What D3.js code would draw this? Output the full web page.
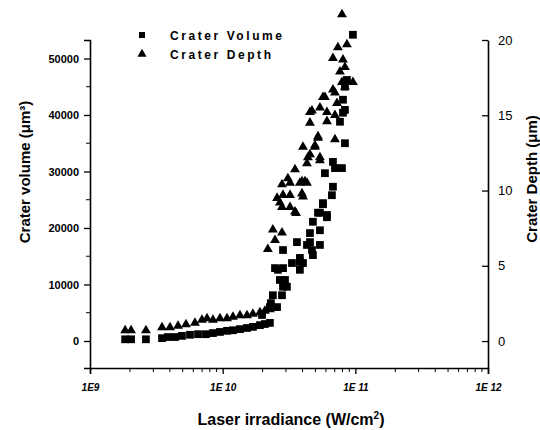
<!DOCTYPE html>
<html>
<head>
<meta charset="utf-8">
<script src="https://cdn.jsdelivr.net/npm/d3@7"></script>
<style>
  body { margin: 0; background: #fff; }
  svg { display: block; font-family: "Liberation Sans", Arial, sans-serif; }
</style>
</head>
<body>
<div id="chart"></div>
<script>
// data: [irradiance W/cm2, value]
const volumeData = [
  [1.84e9, 300], [2.04e9, 300], [2.64e9, 300], [3.49e9, 500], [3.87e9, 700], [4.37e9, 700],
  [4.93e9, 900], [5.67e9, 1100], [6.52e9, 1200], [7.48e9, 1200], [8.45e9, 1400], [9.54e9, 1600],
  [1.078e10, 1800], [1.196e10, 1900], [1.35e10, 2100], [1.525e10, 2300], [1.69e10, 2500],
  [1.91e10, 2800], [2.08e10, 3000], [2.27e10, 3200], [1.98e10, 4600], [2.27e10, 6000],
  [2.57e10, 6000], [2.31e10, 6700], [2.39e10, 8100], [2.80e10, 8100], [2.85e10, 9600],
  [3.05e10, 9600], [2.70e10, 10800], [2.95e10, 10800], [2.61e10, 12600], [2.85e10, 12900],
  [3.33e10, 13800], [3.82e10, 14000], [3.82e10, 12600], [2.85e10, 16100], [3.63e10, 17500],
  [4.55e10, 17500], [4.79e10, 15200], [5.41e10, 17000], [4.32e10, 17000], [4.71e10, 16100],
  [4.03e10, 13800], [5.41e10, 19600], [4.79e10, 21100], [4.55e10, 19100], [5.41e10, 22700],
  [6.11e10, 21900], [5.70e10, 24400], [6.66e10, 25800], [6.78e10, 27300], [5.90e10, 29700],
  [7.02e10, 30600], [7.93e10, 30600], [6.78e10, 31700], [8.35e10, 35000], [7.66e10, 38800],
  [8.07e10, 40400], [8.35e10, 40900], [8.07e10, 42700], [8.35e10, 45000], [8.64e10, 46200],
  [9.59e10, 54200], [5.70e10, 24200], [6.11e10, 22300], [5.23e10, 22700], [2.48e10, 12900],
  [3.82e10, 14700]
];

const depthData = [
  [1.84e9, 0.7], [2.04e9, 0.7], [2.64e9, 0.7], [3.49e9, 0.9], [4.01e9, 0.9], [4.61e9, 1.0],
  [5.29e9, 1.1], [6.18e9, 1.2], [6.98e9, 1.4], [7.62e9, 1.5], [8.45e9, 1.4], [9.54e9, 1.5],
  [1.078e10, 1.5], [1.196e10, 1.6], [1.35e10, 1.7], [1.525e10, 1.7], [1.69e10, 1.8],
  [1.91e10, 1.9], [2.08e10, 2.0], [2.27e10, 2.1], [2.19e10, 6.1], [2.39e10, 7.4],
  [2.48e10, 6.7], [2.80e10, 7.2], [2.85e10, 9.7], [2.57e10, 9.5], [2.80e10, 8.9],
  [3.22e10, 9.7], [3.51e10, 8.6], [4.03e10, 9.6], [2.80e10, 10.4], [3.22e10, 10.5],
  [3.82e10, 10.5], [4.32e10, 10.5], [2.70e10, 9.2], [3.22e10, 8.9], [3.57e10, 8.5],
  [3.96e10, 10.6], [4.32e10, 11.8], [3.96e10, 9.8], [4.55e10, 12.4], [5.41e10, 12.2],
  [4.03e10, 12.9], [4.96e10, 12.9], [5.23e10, 13.6], [4.39e10, 12.2], [4.96e10, 13.0],
  [7.02e10, 13.4], [5.41e10, 12.0], [4.17e10, 10.6], [4.55e10, 15.2], [6.11e10, 15.2],
  [7.02e10, 15.0], [4.55e10, 14.5], [6.11e10, 14.6], [5.23e10, 13.5], [5.70e10, 16.2],
  [6.78e10, 16.7], [4.71e10, 15.3], [5.41e10, 15.5], [7.27e10, 15.8], [5.90e10, 16.2],
  [7.02e10, 16.5], [7.93e10, 17.2], [8.35e10, 16.9], [9.59e10, 17.2], [7.66e10, 17.9],
  [8.35e10, 18.2], [6.78e10, 18.8], [8.07e10, 18.7], [7.39e10, 19.5], [8.64e10, 19.7],
  [7.93e10, 21.7], [3.51e10, 11.4], [3.10e10, 10.8]
];

const volumeTicks = [0, 10000, 20000, 30000, 40000, 50000];
const depthTicks = [0, 5, 10, 15, 20];
const xTicks = [1e9, 1e10, 1e11, 1e12];
const xTickLabels = ["1E9", "1E 10", "1E 11", "1E 12"];
const legendLabels = ["Crater Volume", "Crater Depth"];

const W = 540, H = 430;
const plotL = 90, plotR = 488, plotT = 40, plotB = 368;

const svg = d3.select("#chart").append("svg")
    .attr("width", W)
    .attr("height", H);

const x = d3.scaleLog().domain([1e9, 1e12]).range([plotL, plotR]);
const yV = d3.scaleLinear().domain([-4780, 53270]).range([plotB, plotT]);
const yD = d3.scaleLinear().domain([-1.79, 20]).range([plotB, plotT]);

// axes
const axL = svg.append("g")
    .attr("transform", `translate(${plotL},0)`)
    .call(d3.axisLeft(yV).tickValues(volumeTicks).tickSize(6).tickPadding(5).tickFormat(d3.format("d")));
axL.selectAll(".tick text").style("font-size", "11px").style("font-weight", "bold");
axL.append("g").selectAll("line")
    .data(d3.range(5000, 55000, 10000))
    .enter().append("line")
    .attr("x1", 0).attr("x2", -4)
    .attr("y1", d => yV(d)).attr("y2", d => yV(d))
    .attr("stroke", "#000");

const axR = svg.append("g")
    .attr("transform", `translate(${plotR},0)`)
    .call(d3.axisRight(yD).tickValues(depthTicks).tickSizeInner(-6).tickSizeOuter(0).tickPadding(10));
axR.selectAll(".tick text").style("font-size", "13px");

const axB = svg.append("g")
    .attr("transform", `translate(0,${plotB})`)
    .call(d3.axisBottom(x).tickValues(xTicks).tickSize(6).tickPadding(10)
        .tickFormat((d, i) => xTickLabels[i]));
axB.selectAll(".tick text")
    .style("font-size", "10px").style("font-weight", "bold").style("font-style", "italic");
const minor = [];
[1e9, 1e10, 1e11].forEach(dec => { for (let k = 2; k < 10; k++) minor.push(dec * k); });
axB.append("g").selectAll("line")
    .data(minor)
    .enter().append("line")
    .attr("x1", d => x(d)).attr("x2", d => x(d))
    .attr("y1", 0).attr("y2", 4)
    .attr("stroke", "#000");

svg.selectAll(".domain").attr("stroke-width", 1.6);
svg.selectAll(".tick line").attr("stroke-width", 1.3);

// marks
const sq = d3.symbol().type(d3.symbolSquare).size(60);
const tri = d3.symbol().type(d3.symbolTriangle).size(42);

svg.append("g").selectAll("path")
    .data(volumeData)
    .enter().append("path")
    .attr("d", sq)
    .attr("transform", d => `translate(${x(d[0])},${yV(d[1])})`)
    .attr("fill", "#000");

svg.append("g").selectAll("path")
    .data(depthData)
    .enter().append("path")
    .attr("d", tri)
    .attr("transform", d => `translate(${x(d[0])},${yD(d[1])})`)
    .attr("fill", "#000");

// legend
const lg = svg.append("g").attr("font-size", 12).attr("font-weight", "bold");
lg.append("path").attr("d", d3.symbol().type(d3.symbolSquare).size(36))
    .attr("transform", "translate(142,35)");
lg.append("path").attr("d", d3.symbol().type(d3.symbolTriangle).size(36))
    .attr("transform", "translate(142,54)");
lg.append("text").attr("x", 170).attr("y", 40)
    .attr("textLength", 112).attr("lengthAdjust", "spacing").text(legendLabels[0]);
lg.append("text").attr("x", 170).attr("y", 59)
    .attr("textLength", 101).attr("lengthAdjust", "spacing").text(legendLabels[1]);

// titles
svg.append("text")
    .attr("transform", "translate(30,172) rotate(-90)")
    .attr("text-anchor", "middle")
    .attr("font-size", 15).attr("font-weight", "bold")
    .text("Crater volume (μm³)");

svg.append("text")
    .attr("transform", "translate(537,179) rotate(-90)")
    .attr("text-anchor", "middle")
    .attr("font-size", 15).attr("font-weight", "bold")
    .text("Crater Depth (μm)");

svg.append("text")
    .attr("x", 291).attr("y", 425)
    .attr("text-anchor", "middle")
    .attr("font-size", 16).attr("font-weight", "bold")
    .html("Laser irradiance (W/cm<tspan dy='-6' font-size='10'>2</tspan><tspan dy='6'>)</tspan>");
</script>
</body>
</html>
